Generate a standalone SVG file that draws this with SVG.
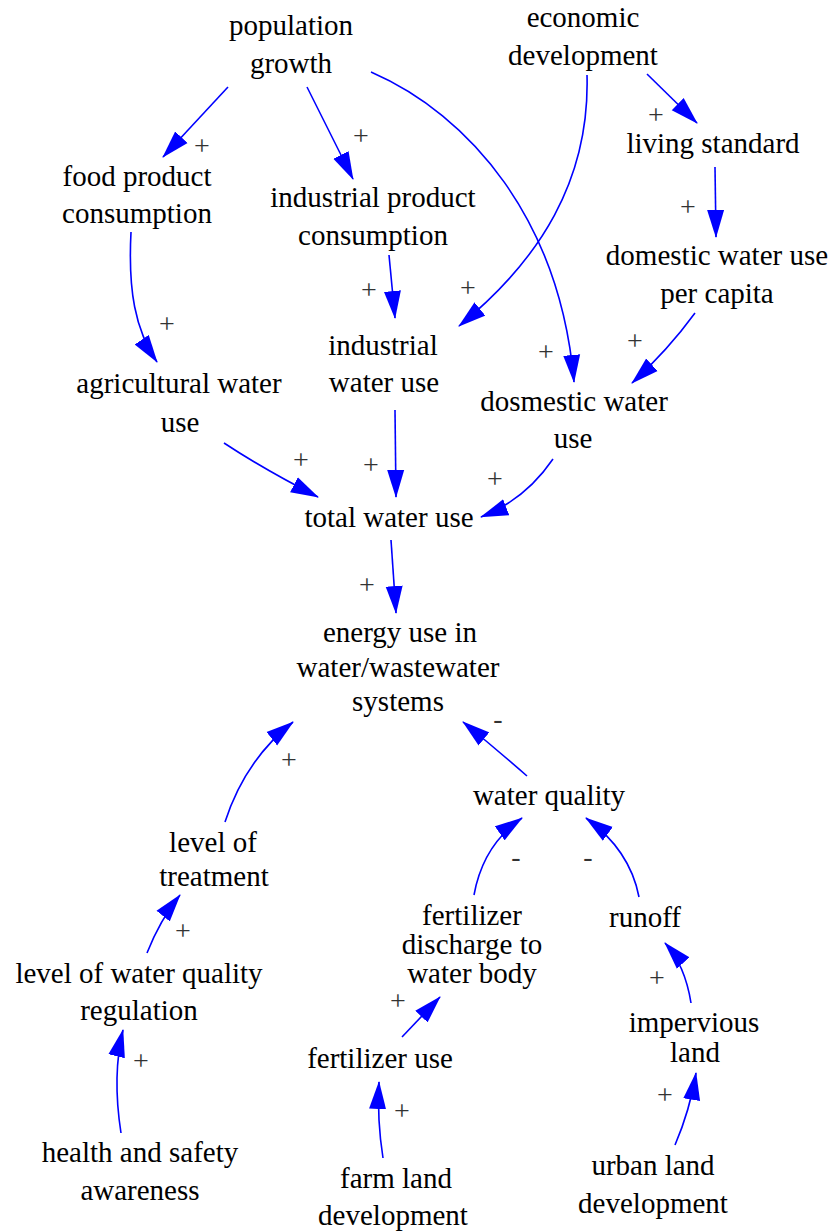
<svg xmlns="http://www.w3.org/2000/svg" width="838" height="1232" viewBox="0 0 838 1232">
<style>
.n{font-size:29px;fill:#000;text-anchor:middle}
.c path{fill:none;stroke:#0000ff;stroke-width:1.6;marker-end:url(#ah)}
.l{font-size:28px;fill:#333;text-anchor:middle}
</style>
<defs>
<marker id="ah" markerUnits="userSpaceOnUse" markerWidth="28" markerHeight="18" viewBox="0 0 28 18" refX="27" refY="9" orient="auto">
<path d="M0,0.5 L28,9 L0,17.5 Z" fill="#0000ff"/>
</marker>
</defs>
<rect width="838" height="1232" fill="#fff"/>
<g class="c" id="connectors">
<path d="M228,87 L163,157"/>
<path d="M307,87 L353,179"/>
<path d="M371,72 C470,115 560,220 574,382"/>
<path d="M587,75 C590,180 540,260 459,326"/>
<path d="M647,74 L697,123"/>
<path d="M715,167 L716,237"/>
<path d="M695,313 Q668,350 632,383"/>
<path d="M131,232 C128,290 135,330 157,362"/>
<path d="M389,255 L395,318"/>
<path d="M224,443 Q265,470 318,497"/>
<path d="M395,410 L396,497"/>
<path d="M553,459 Q525,500 481,517"/>
<path d="M391,540 L396,613"/>
<path d="M225,822 Q245,760 293,722"/>
<path d="M527,776 Q495,748 463,722"/>
<path d="M474,895 Q483,845 522,818"/>
<path d="M639,897 Q630,850 586,818"/>
<path d="M147,953 Q160,920 180,895"/>
<path d="M121,1133 Q112,1075 123,1030"/>
<path d="M383,1158 Q377,1120 379,1082"/>
<path d="M402,1037 L440,997"/>
<path d="M691,1003 Q685,965 665,943"/>
<path d="M675,1145 Q690,1110 696,1073"/>
</g>
<g class="l" id="polarities" font-family="'Liberation Serif', 'DejaVu Serif', serif">
<text x="202" y="155">+</text>
<text x="361" y="145">+</text>
<text x="546" y="361">+</text>
<text x="468" y="297">+</text>
<text x="656" y="124">+</text>
<text x="688" y="216">+</text>
<text x="635" y="350">+</text>
<text x="167" y="333">+</text>
<text x="369" y="299">+</text>
<text x="301" y="469">+</text>
<text x="371" y="474">+</text>
<text x="495" y="488">+</text>
<text x="367" y="594">+</text>
<text x="289" y="769">+</text>
<text x="498" y="728">-</text>
<text x="516" y="866">-</text>
<text x="588" y="866">-</text>
<text x="183" y="940">+</text>
<text x="141" y="1070">+</text>
<text x="402" y="1120">+</text>
<text x="398" y="1010">+</text>
<text x="657" y="987">+</text>
<text x="665" y="1104">+</text>
</g>
<g font-family="'Liberation Serif', 'DejaVu Serif', serif">
<g class="n" id="population_growth"><text x="291" y="35">population</text><text x="291" y="73">growth</text></g>
<g class="n" id="economic_development"><text x="583" y="27">economic</text><text x="583" y="65">development</text></g>
<g class="n" id="food_product_consumption"><text x="137" y="186">food product</text><text x="137" y="223">consumption</text></g>
<g class="n" id="industrial_product_consumption"><text x="373" y="207">industrial product</text><text x="373" y="245">consumption</text></g>
<g class="n" id="living_standard"><text x="713" y="153">living standard</text></g>
<g class="n" id="domestic_water_use_per_capita"><text x="717" y="265">domestic water use</text><text x="717" y="303">per capita</text></g>
<g class="n" id="agricultural_water_use"><text x="179" y="393">agricultural water</text><text x="180" y="432">use</text></g>
<g class="n" id="industrial_water_use"><text x="383" y="355">industrial</text><text x="384" y="392">water use</text></g>
<g class="n" id="dosmestic_water_use"><text x="574" y="411">dosmestic water</text><text x="573" y="448">use</text></g>
<g class="n" id="total_water_use"><text x="389" y="527">total water use</text></g>
<g class="n" id="energy_use"><text x="400" y="642">energy use in</text><text x="398" y="677">water/wastewater</text><text x="398" y="711">systems</text></g>
<g class="n" id="water_quality"><text x="549" y="805">water quality</text></g>
<g class="n" id="level_of_treatment"><text x="213" y="852">level of</text><text x="214" y="886">treatment</text></g>
<g class="n" id="level_of_water_quality_regulation"><text x="139" y="983">level of water quality</text><text x="139" y="1020">regulation</text></g>
<g class="n" id="health_and_safety_awareness"><text x="140" y="1162">health and safety</text><text x="140" y="1200">awareness</text></g>
<g class="n" id="fertilizer_use"><text x="380" y="1068">fertilizer use</text></g>
<g class="n" id="farm_land_development"><text x="396" y="1188">farm land</text><text x="393" y="1225">development</text></g>
<g class="n" id="fertilizer_discharge"><text x="472" y="925">fertilizer</text><text x="472" y="954">discharge to</text><text x="472" y="983">water body</text></g>
<g class="n" id="runoff"><text x="645" y="927">runoff</text></g>
<g class="n" id="impervious_land"><text x="694" y="1032">impervious</text><text x="695" y="1062">land</text></g>
<g class="n" id="urban_land_development"><text x="653" y="1175">urban land</text><text x="653" y="1213">development</text></g>
</g>
</svg>
